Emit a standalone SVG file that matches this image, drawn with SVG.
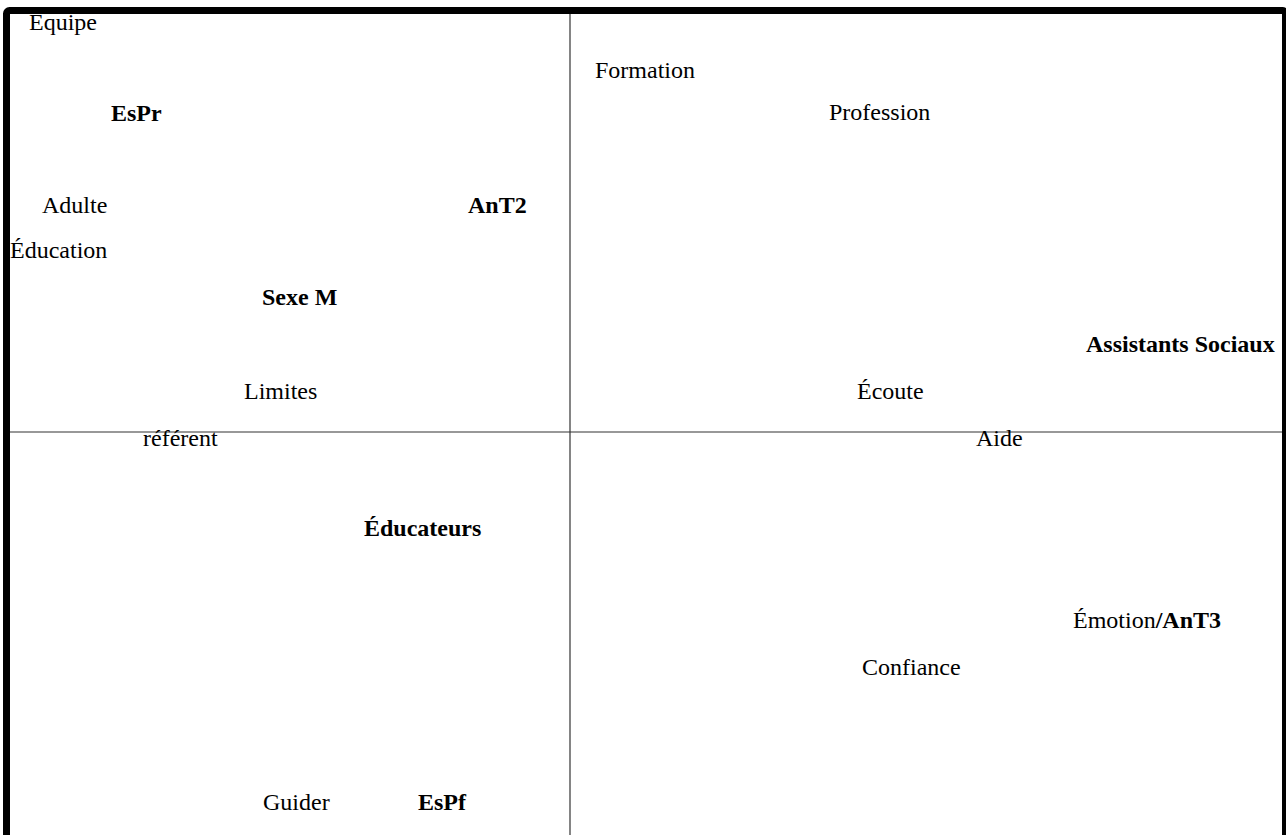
<svg xmlns="http://www.w3.org/2000/svg" width="1286" height="835" viewBox="0 0 1286 835">
<style>
text{font-family:"Liberation Serif","Times New Roman",serif;font-size:24px;fill:#000}
.b{font-weight:bold}
.axis{stroke:#333;stroke-width:1.2;fill:none}
.frame{stroke:#000;stroke-width:7;fill:none;stroke-linejoin:round}
</style>
<rect width="1286" height="835" fill="#fff"/>
<g id="frame"><rect class="frame" x="6.5" y="10.5" width="1279" height="860" rx="3"/></g>
<g id="connectors">
<line class="axis" x1="570" y1="14" x2="570" y2="835"/>
<line class="axis" x1="10" y1="432" x2="1282" y2="432"/>
</g>
<g id="n-equipe"><text x="29" y="30">Equipe</text></g>
<g id="n-espr"><text class="b" x="111" y="121">EsPr</text></g>
<g id="n-formation"><text x="595" y="78">Formation</text></g>
<g id="n-profession"><text x="829" y="120">Profession</text></g>
<g id="n-adulte"><text x="42" y="213">Adulte</text></g>
<g id="n-ant2"><text class="b" x="468" y="213">AnT2</text></g>
<g id="n-education"><text x="10" y="258">Éducation</text></g>
<g id="n-sexem"><text class="b" x="262" y="305">Sexe M</text></g>
<g id="n-as"><text class="b" x="1086" y="352">Assistants Sociaux</text></g>
<g id="n-limites"><text x="244" y="399">Limites</text></g>
<g id="n-ecoute"><text x="857" y="399">Écoute</text></g>
<g id="n-referent"><text x="143" y="446">référent</text></g>
<g id="n-aide"><text x="976" y="446">Aide</text></g>
<g id="n-educateurs"><text class="b" x="364" y="536">Éducateurs</text></g>
<g id="n-emotion"><text x="1073" y="628">Émotion<tspan class="b">/AnT3</tspan></text></g>
<g id="n-confiance"><text x="862" y="675">Confiance</text></g>
<g id="n-guider"><text x="263" y="810">Guider</text></g>
<g id="n-espf"><text class="b" x="418" y="810">EsPf</text></g>
</svg>
